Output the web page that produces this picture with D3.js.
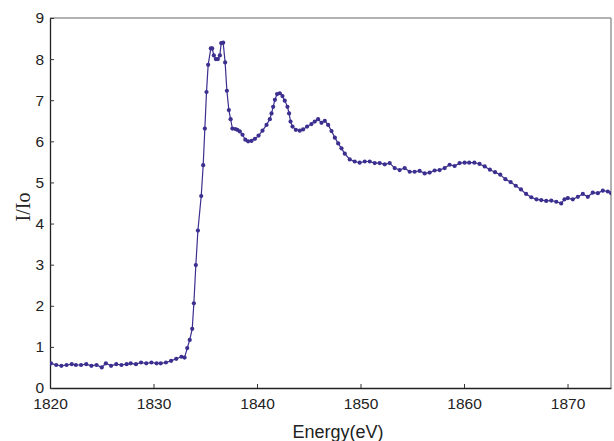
<!DOCTYPE html>
<html lang="en">
<head>
<meta charset="utf-8">
<title>I/Io vs Energy</title>
<script src="https://cdn.jsdelivr.net/npm/d3@7"></script>
<style>
  body { margin: 0; background: #fff; }
  .tick text { font-family: "Liberation Sans", Arial, sans-serif; font-size: 15.5px; fill: #222; }
</style>
</head>
<body>
<script>
// energies (eV)
var energy = [
  1820.1, 1820.6, 1821.1, 1821.6, 1822.1, 1822.5, 1823.0, 1823.5, 1824.0, 1824.5,
  1825.0, 1825.4, 1825.9, 1826.4, 1826.9, 1827.4, 1827.8, 1828.3, 1828.8, 1829.3,
  1829.8, 1830.3, 1830.7, 1831.2, 1831.7, 1832.2, 1832.7, 1833.0, 1833.26, 1833.5,
  1833.74, 1833.9, 1834.09, 1834.29, 1834.61, 1834.8, 1834.96, 1835.12, 1835.28, 1835.54,
  1835.67, 1835.83, 1836.02, 1836.22, 1836.41, 1836.54, 1836.73, 1836.92, 1837.09, 1837.28,
  1837.45, 1837.62, 1837.9, 1838.1, 1838.34, 1838.6, 1838.87, 1839.14, 1839.47, 1839.8,
  1840.15, 1840.53, 1840.92, 1841.24, 1841.4, 1841.56, 1841.73, 1841.94, 1842.2, 1842.46,
  1842.68, 1842.94, 1843.1, 1843.24, 1843.43, 1843.75, 1844.13, 1844.45, 1844.84, 1845.26,
  1845.58, 1845.9, 1846.23, 1846.55, 1846.87, 1847.2, 1847.52, 1847.84, 1848.16, 1848.48,
  1848.96, 1849.44, 1849.92, 1850.41, 1850.89, 1851.37, 1851.85, 1852.34, 1852.82, 1853.3,
  1853.78, 1854.27, 1854.75, 1855.23, 1855.71, 1856.2, 1856.68, 1857.16, 1857.64, 1858.13,
  1858.61, 1859.09, 1859.57, 1860.06, 1860.5, 1861.0, 1861.5, 1862.0, 1862.5, 1863.0,
  1863.5, 1864.0, 1864.5, 1865.0, 1865.5, 1866.0, 1866.5, 1867.0, 1867.46, 1867.94,
  1868.43, 1868.91, 1869.39, 1869.71, 1870.03, 1870.51, 1871.0, 1871.48, 1871.96, 1872.44,
  1872.93, 1873.41, 1873.89, 1874.22
];
// normalised intensity I/Io
var intensity = [
  0.60, 0.56, 0.54, 0.56, 0.58, 0.56, 0.56, 0.58, 0.54, 0.56,
  0.50, 0.60, 0.54, 0.58, 0.56, 0.58, 0.60, 0.58, 0.62, 0.60,
  0.62, 0.60, 0.60, 0.62, 0.66, 0.71, 0.76, 0.74, 0.97, 1.17,
  1.44, 2.06, 2.99, 3.83, 4.67, 5.42, 6.31, 7.20, 7.86, 8.26,
  8.26, 8.09, 8.00, 8.00, 8.09, 8.39, 8.40, 7.92, 7.23, 6.76,
  6.54, 6.31, 6.30, 6.28, 6.24, 6.16, 6.04, 6.00, 6.01, 6.06,
  6.14, 6.26, 6.40, 6.54, 6.68, 6.84, 7.01, 7.15, 7.17, 7.10,
  6.99, 6.84, 6.68, 6.48, 6.36, 6.28, 6.26, 6.29, 6.36, 6.42,
  6.48, 6.54, 6.45, 6.50, 6.40, 6.25, 6.09, 5.95, 5.83, 5.70,
  5.56, 5.51, 5.48, 5.51, 5.51, 5.47, 5.47, 5.44, 5.47, 5.35,
  5.30, 5.35, 5.26, 5.26, 5.28, 5.22, 5.24, 5.29, 5.30, 5.35,
  5.43, 5.40, 5.47, 5.48, 5.48, 5.48, 5.45, 5.39, 5.31, 5.25,
  5.19, 5.08, 5.01, 4.92, 4.83, 4.72, 4.64, 4.59, 4.57, 4.55,
  4.56, 4.53, 4.49, 4.59, 4.62, 4.59, 4.65, 4.72, 4.65, 4.75,
  4.74, 4.80, 4.78, 4.74
];
var xTicks = [1820, 1830, 1840, 1850, 1860, 1870];
var yTicks = [0, 1, 2, 3, 4, 5, 6, 7, 8, 9];

var w = 614, h = 441;
var mLeft = 50, mRight = 611, mTop = 18, mBottom = 388;
var lineColor = "#3b2f8f";

var data = energy.map(function(e, i) { return { e: e, v: intensity[i] }; });

var svg = d3.select("body").append("svg")
  .attr("width", w)
  .attr("height", h);

var x = d3.scaleLinear().domain([1820, 1874.2]).range([mLeft, mRight]);
var y = d3.scaleLinear().domain([0, 9]).range([mBottom, mTop]);

svg.append("defs").append("clipPath").attr("id", "plotclip")
  .append("rect").attr("x", mLeft).attr("y", mTop)
  .attr("width", mRight - mLeft).attr("height", mBottom - mTop);

// frame: top and right in grey
svg.append("line").attr("x1", mLeft).attr("x2", mRight).attr("y1", mTop).attr("y2", mTop)
  .attr("stroke", "#999").attr("stroke-width", 1.3);
svg.append("line").attr("x1", mRight).attr("x2", mRight).attr("y1", mTop).attr("y2", mBottom)
  .attr("stroke", "#888").attr("stroke-width", 1.3);

// axes, ticks pointing inward
var xAxis = svg.append("g")
  .attr("transform", "translate(0," + mBottom + ")")
  .call(d3.axisBottom(x).tickValues(xTicks).tickSizeInner(-4).tickSizeOuter(0).tickPadding(10).tickFormat(d3.format("d")));
var yAxis = svg.append("g")
  .attr("transform", "translate(" + mLeft + ",0)")
  .call(d3.axisLeft(y).tickValues(yTicks).tickSizeInner(-4).tickSizeOuter(0).tickPadding(6));
[xAxis, yAxis].forEach(function(g) {
  g.select(".domain").attr("stroke", "#222").attr("stroke-width", 1.3);
  g.selectAll(".tick line").attr("stroke", "#333");
});

// axis titles
svg.append("text")
  .attr("x", 338).attr("y", 438)
  .attr("text-anchor", "middle")
  .style("font-family", "'Liberation Sans', Arial, sans-serif")
  .style("font-size", "18px").style("fill", "#222")
  .text("Energy(eV)");
svg.append("text")
  .attr("transform", "translate(30,207) rotate(-90)")
  .attr("text-anchor", "middle")
  .style("font-family", "'Liberation Serif', 'Times New Roman', serif")
  .style("font-size", "20px").style("fill", "#222")
  .text("I/Io");

var plot = svg.append("g").attr("clip-path", "url(#plotclip)");

plot.append("path")
  .datum(data)
  .attr("fill", "none")
  .attr("stroke", lineColor)
  .attr("stroke-width", 1.2)
  .attr("d", d3.line().x(function(d) { return x(d.e); }).y(function(d) { return y(d.v); }));

plot.selectAll("circle")
  .data(data)
  .enter()
  .append("circle")
  .attr("cx", function(d) { return x(d.e); })
  .attr("cy", function(d) { return y(d.v); })
  .attr("r", 2.1)
  .attr("fill", lineColor);
</script>
</body>
</html>
